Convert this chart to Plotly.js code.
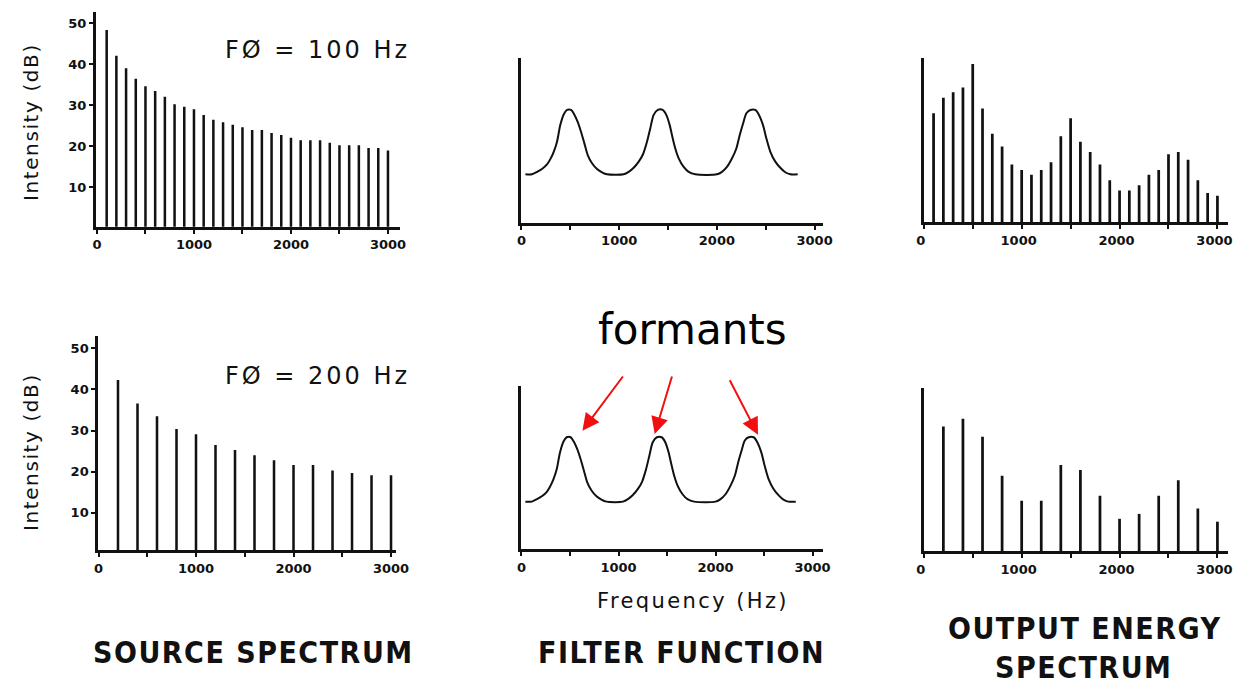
<!DOCTYPE html>
<html>
<head>
<meta charset="utf-8">
<script src="https://cdn.plot.ly/plotly-3.0.1.min.js"></script>
<style>
  html, body { margin: 0; padding: 0; background: #fff; }
  #chart { width: 1234px; height: 684px; }
</style>
</head>
<body>
<div id="chart"></div>
<script>
// Harmonic frequencies (Hz) for a 100 Hz and a 200 Hz fundamental
const harmonics100 = [100, 200, 300, 400, 500, 600, 700, 800, 900, 1000,
                      1100, 1200, 1300, 1400, 1500, 1600, 1700, 1800, 1900, 2000,
                      2100, 2200, 2300, 2400, 2500, 2600, 2700, 2800, 2900, 3000];
const harmonics200 = [200, 400, 600, 800, 1000, 1200, 1400, 1600, 1800, 2000,
                      2200, 2400, 2600, 2800, 3000];

// Source spectrum levels (dB)
const source100 = [48.3, 42.0, 39.0, 36.4, 34.6, 33.4, 32.0, 30.2, 29.6, 29.0,
                   27.6, 26.4, 25.8, 25.2, 24.6, 23.9, 23.9, 23.2, 22.7, 22.0,
                   21.4, 21.4, 21.4, 20.8, 20.2, 20.2, 20.2, 19.5, 19.5, 18.9];
const source200 = [42.3, 36.6, 33.5, 30.4, 29.1, 26.5, 25.3, 24.0, 22.8, 21.6,
                   21.6, 20.3, 19.7, 19.1, 19.1];

// Vocal-tract filter function (relative level) sampled along frequency
const filterHz = [40, 107, 159, 210, 261, 295, 330, 363, 397, 432,
                  466, 507, 540, 575, 609, 643, 678, 722, 773, 824,
                  875, 1046, 1097, 1148, 1200, 1244, 1284, 1318, 1353, 1395,
                  1445, 1482, 1517, 1540, 1574, 1609, 1660, 1711, 1779, 2001,
                  2052, 2103, 2155, 2199, 2234, 2268, 2302, 2342, 2393, 2428,
                  2472, 2506, 2547, 2598, 2649, 2700, 2751, 2827];
const filterLevel = [12.2, 12.2, 12.8, 13.5, 14.6, 15.9, 17.7, 20.1, 24.2, 26.8,
                     27.9, 27.9, 26.8, 25.0, 22.6, 19.8, 16.9, 14.9, 13.5, 12.7,
                     12.2, 12.2, 12.8, 13.8, 15.3, 17.1, 20.1, 23.4, 26.7, 27.9,
                     27.9, 26.7, 24.2, 21.8, 18.5, 16.1, 14.0, 12.8, 12.2, 12.2,
                     12.8, 14.0, 16.1, 18.5, 21.8, 24.6, 27.1, 27.9, 27.9, 26.8,
                     24.2, 21.0, 17.7, 15.3, 13.8, 12.7, 12.2, 12.2];

// Output energy spectrum (relative level)
const output100 = [26.8, 30.6, 31.9, 33.1, 38.8, 28.0, 21.8, 18.7, 14.3, 13.0,
                   11.8, 13.0, 14.9, 21.2, 25.6, 19.9, 17.4, 14.3, 10.5, 8.0,
                   8.0, 9.3, 11.8, 13.0, 16.8, 17.4, 15.5, 10.5, 7.4, 6.7];
const output200 = [30.9, 32.8, 28.4, 18.9, 12.8, 12.8, 21.5, 20.3, 14.0, 8.4,
                   9.6, 14.0, 17.8, 10.9, 7.7];

// Frequency axis ticks: marks every 500 Hz, labels every 1000 Hz
const freqTickVals = [0, 500, 1000, 1500, 2000, 2500, 3000];
const freqTickText = ['0', '', '1000', '', '2000', '', '3000'];
const dbTickVals = [10, 20, 30, 40, 50];
const dbTickText = ['10', '20', '30', '40', '50'];

// Titles and labels
const dbLabel = 'Intensity (dB)';
const f0Labels = ['F\u00D8 = 100 Hz', 'F\u00D8 = 200 Hz'];
const freqLabel = 'Frequency (Hz)';
const formantLabel = 'formants';
const panelTitles = ['SOURCE SPECTRUM', 'FILTER FUNCTION', 'OUTPUT ENERGY', 'SPECTRUM'];

// ---- layout helpers (pixel -> paper fractions) ----
const W = 1234, H = 684;
const fx = p => p / W;
const fy = p => 1 - p / H;

const INK = '#111';
const tickFont = { family: 'DejaVu Sans', size: 13, color: INK, weight: 'bold' };

function xAx(left, right, range, anchor, shift) {
  return {
    domain: [fx(left), fx(right)], range: range, anchor: anchor,
    showline: true, linecolor: INK, linewidth: 3,
    showgrid: false, zeroline: false, fixedrange: true,
    ticks: 'outside', ticklen: 4, tickwidth: 2, tickcolor: INK,
    tickmode: 'array', tickvals: freqTickVals, ticktext: freqTickText,
    tickfont: tickFont, ticklabeloverflow: 'allow', ticklabelshift: shift || 0,
    automargin: false
  };
}
function yAx(bottom, top, range, anchor, labelled) {
  const ax = {
    domain: [fy(bottom), fy(top)], range: range, anchor: anchor,
    showline: true, linecolor: INK, linewidth: 3,
    showgrid: false, zeroline: false, fixedrange: true, automargin: false
  };
  if (labelled) {
    Object.assign(ax, {
      ticks: 'outside', ticklen: 4, tickwidth: 2, tickcolor: INK,
      tickmode: 'array', tickvals: dbTickVals, ticktext: dbTickText,
      tickfont: tickFont, ticklabeloverflow: 'allow'
    });
  } else {
    Object.assign(ax, { ticks: '', showticklabels: false });
  }
  return ax;
}

function stems(x, y, xa, ya, w) {
  return { type: 'bar', x: x, y: y, xaxis: xa, yaxis: ya, width: w,
           marker: { color: INK, line: { width: 0 } }, hoverinfo: 'skip' };
}
function curve(xa, ya) {
  return { type: 'scatter', mode: 'lines', x: filterHz, y: filterLevel,
           xaxis: xa, yaxis: ya, line: { color: INK, width: 2, shape: 'spline', smoothing: 0.8 },
           hoverinfo: 'skip' };
}

const data = [
  stems(harmonics100, source100, 'x', 'y', 26),
  stems(harmonics200, source200, 'x2', 'y2', 26),
  curve('x3', 'y3'),
  curve('x4', 'y4'),
  stems(harmonics100, output100, 'x5', 'y5', 28),
  stems(harmonics200, output200, 'x6', 'y6', 28)
];

function label(text, xp, yp, font, extra) {
  return Object.assign({ text: text, xref: 'paper', yref: 'paper', x: fx(xp), y: fy(yp),
    xanchor: 'center', yanchor: 'middle', showarrow: false, font: font }, extra || {});
}
const spaced = (t, s) => '<span style="letter-spacing:' + s + 'px">' + t + '</span>';
const geneva = size => ({ family: 'DejaVu Sans', size: size, color: INK });
const heading = { family: 'DejaVu Sans Condensed, DejaVu Sans', size: 30, color: INK, weight: 'bold' };

function arrow(x, y, ax, ay) {
  return { xref: 'x4', yref: 'y4', x: x, y: y, ax: ax, ay: ay, text: '',
           showarrow: true, arrowhead: 2, arrowsize: 1.7, arrowwidth: 2,
           arrowcolor: '#f01010', standoff: 0 };
}

const annotations = [
  label(spaced(dbLabel, 1.6), 31, 122, geneva(20), { textangle: -90 }),
  label(spaced(dbLabel, 1.6), 31, 452, geneva(20), { textangle: -90 }),
  label(spaced(f0Labels[0], 3), 318, 50, geneva(24)),
  label(spaced(f0Labels[1], 3), 318, 376, geneva(24)),
  label(spaced(freqLabel, 2.4), 693, 601, geneva(21)),
  label(formantLabel, 692, 330, { family: 'DejaVu Sans', size: 42, color: '#000' }),
  label(spaced(panelTitles[0], 1.5), 253, 652, heading),
  label(spaced(panelTitles[1], 1.5), 681, 652, heading),
  label(spaced(panelTitles[2], 1.5), 1085, 628, heading),
  label(spaced(panelTitles[3], 1.5), 1083, 667, heading),
  arrow(628, 29.5, 41.6, -55.7),
  arrow(1373, 28.7, 17.7, -59),
  arrow(2438, 28.5, -29, -56)
];

const layout = {
  width: W, height: H,
  margin: { l: 0, r: 0, t: 0, b: 0, pad: 0 },
  paper_bgcolor: '#fff', plot_bgcolor: 'rgba(0,0,0,0)',
  showlegend: false,
  xaxis:  xAx(96.0, 400, [-10, 3124], 'y'),
  yaxis:  yAx(226.8, 12, [0.3, 52.7], 'x', true),
  xaxis2: xAx(98.3, 396, [-2, 3051], 'y2'),
  yaxis2: yAx(550.2, 336, [0.9, 53], 'x2', true),
  xaxis3: xAx(521.2, 823, [-3, 3086], 'y3'),
  yaxis3: yAx(222.8, 58.3, [0.37, 40.5], 'x3', false),
  xaxis4: xAx(521.2, 823, [-3, 3108], 'y4'),
  yaxis4: yAx(549.2, 386, [0.6, 40.4], 'x4', false),
  xaxis5: xAx(923.5, 1228, [-3, 3108], 'y5', -3),
  yaxis5: yAx(222.2, 58.3, [0.27, 40.2], 'x5', false),
  xaxis6: xAx(923.5, 1228, [-3, 3108], 'y6', -3),
  yaxis6: yAx(551, 388.3, [0.56, 40.2], 'x6', false),
  annotations: annotations
};

Plotly.newPlot('chart', data, layout, { staticPlot: true, displayModeBar: false });
</script>
</body>
</html>
